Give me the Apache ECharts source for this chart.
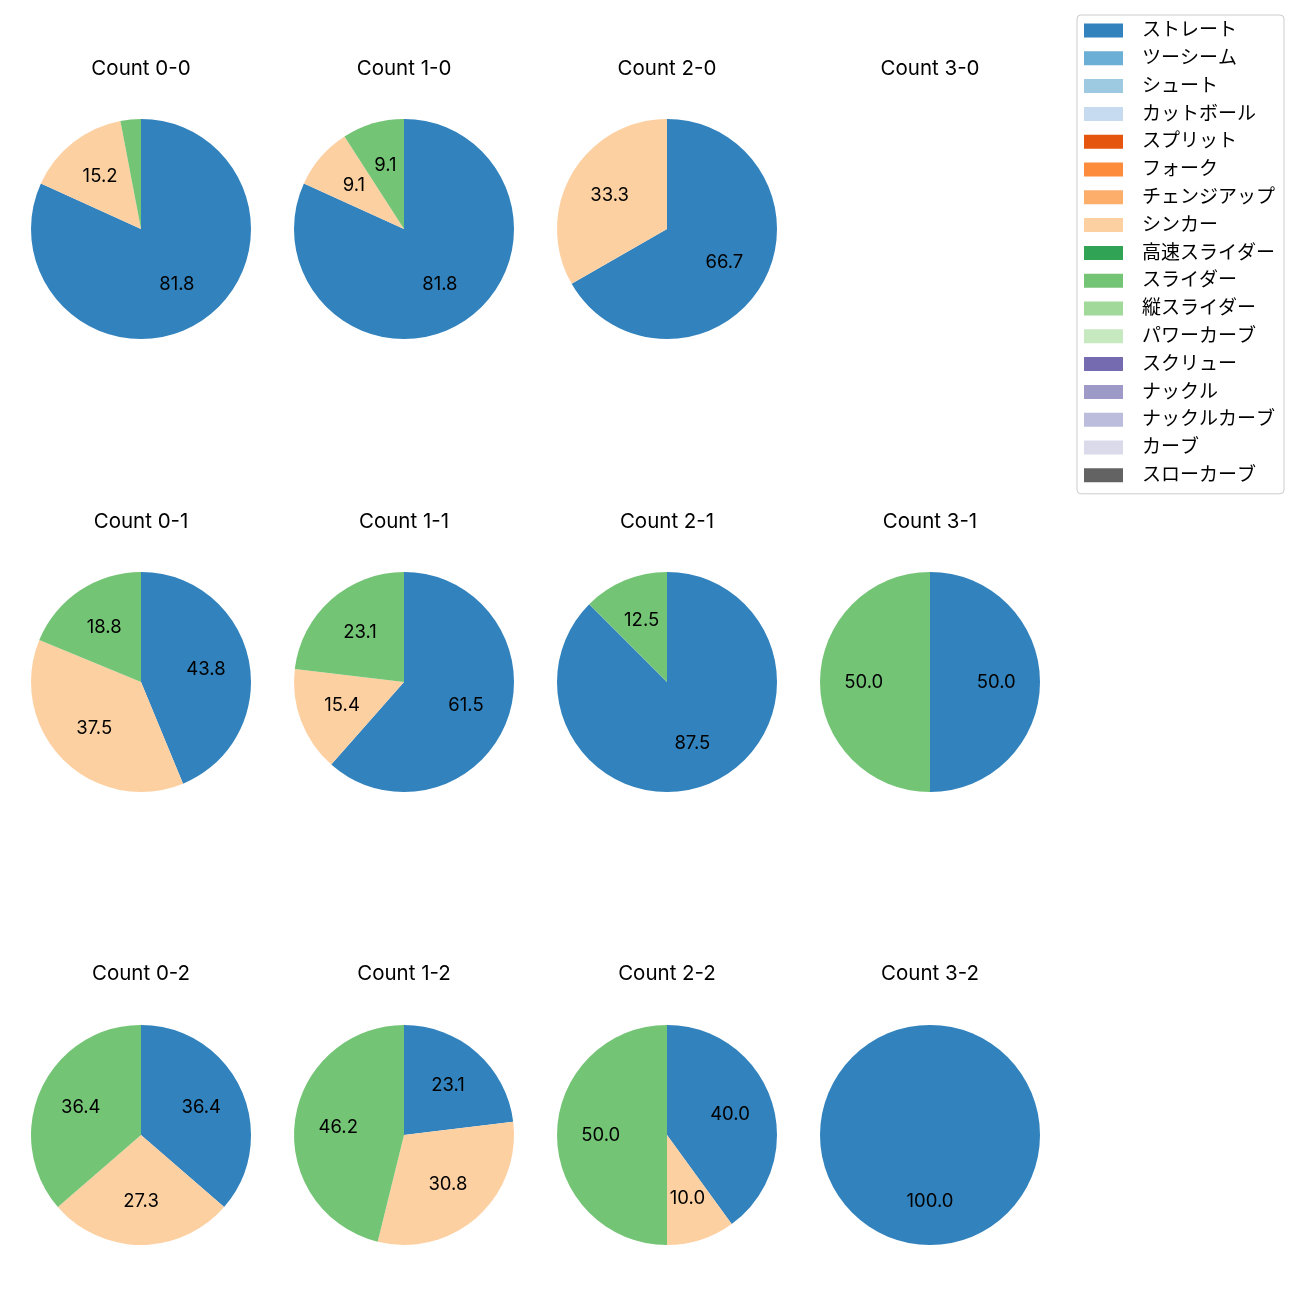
<!DOCTYPE html>
<html><head><meta charset="utf-8">
<script src="https://cdn.jsdelivr.net/npm/echarts@6/dist/echarts.min.js"></script>
<style>html,body{margin:0;padding:0;background:#fff}#c{width:1300px;height:1300px}</style>
</head><body><div id="c"></div>
<script>
const pitchTypes = ['ストレート','ツーシーム','シュート','カットボール','スプリット','フォーク','チェンジアップ','シンカー','高速スライダー','スライダー','縦スライダー','パワーカーブ','スクリュー','ナックル','ナックルカーブ','カーブ','スローカーブ'];
const pitchColors = ['#3182bd','#6baed6','#9ecae1','#c6dbef','#e6550d','#fd8d3c','#fdae6b','#fdd0a2','#31a354','#74c476','#a1d99b','#c7e9c0','#756bb1','#9e9ac8','#bcbddc','#dadaeb','#636363'];

// percentages per count: [ストレート, シンカー, スライダー]
const shownTypes = ['ストレート','シンカー','スライダー'];
const count00 = [81.8, 15.2, 3.0];
const count10 = [81.8, 9.1, 9.1];
const count20 = [66.7, 33.3, 0];
const count30 = [];
const count01 = [43.8, 37.5, 18.8];
const count11 = [61.5, 15.4, 23.1];
const count21 = [87.5, 0, 12.5];
const count31 = [50.0, 0, 50.0];
const count02 = [36.4, 27.3, 36.4];
const count12 = [23.1, 30.8, 46.2];
const count22 = [40.0, 10.0, 50.0];
const count32 = [100.0, 0, 0];

const panels = [
  ['Count 0-0', count00], ['Count 1-0', count10], ['Count 2-0', count20], ['Count 3-0', count30],
  ['Count 0-1', count01], ['Count 1-1', count11], ['Count 2-1', count21], ['Count 3-1', count31],
  ['Count 0-2', count02], ['Count 1-2', count12], ['Count 2-2', count22], ['Count 3-2', count32]
];

const colX = [141, 404, 667, 930];
const rowY = [229, 682, 1135];
const titleY = [59, 512, 964];
const R = 110;
const FONT = 'Inter, "Noto Sans CJK JP", sans-serif';
const colorOf = n => pitchColors[pitchTypes.indexOf(n)];

const titles = [];
const series = [];
// legend provider series (hidden)
series.push({
  type: 'pie', radius: 0, center: [-100, -100], silent: true,
  label: {show: false}, labelLine: {show: false}, stillShowZeroSum: false,
  data: pitchTypes.map(n => ({name: n, value: 0, itemStyle: {color: colorOf(n)}}))
});
panels.forEach((p, i) => {
  const c = i % 4, r = Math.floor(i / 4);
  titles.push({text: p[0], left: colX[c], top: titleY[r], textAlign: 'center', padding: 0,
    textStyle: {fontFamily: FONT, fontSize: 20.5, fontWeight: 'normal', color: '#000'}});
  const vals = p[1];
  if (!vals.length) return;
  const data = [];
  vals.forEach((v, k) => { if (v > 0) data.push({name: shownTypes[k], value: v, itemStyle: {color: colorOf(shownTypes[k])}}); });
  series.push({
    type: 'pie', center: [colX[c], rowY[r]], radius: [0, R], startAngle: 90, clockwise: true,
    silent: true, label: {show: false}, labelLine: {show: false},
    itemStyle: {borderWidth: 0}, data: data
  });
  series.push({
    type: 'pie', center: [colX[c], rowY[r]], radius: [R * 0.15, R], startAngle: 90, clockwise: true,
    silent: true, labelLine: {show: false},
    itemStyle: {color: 'rgba(0,0,0,0)', borderWidth: 0},
    label: {show: true, position: 'inside', fontFamily: FONT, fontSize: 18.5, color: '#000',
      formatter: q => q.value < 5 ? '' : q.value.toFixed(1)},
    data: data.map(d => ({name: d.name, value: d.value, itemStyle: {color: 'rgba(0,0,0,0)'}}))
  });
});

const chart = echarts.init(document.getElementById('c'));
chart.setOption({
  animation: false,
  backgroundColor: '#fff',
  title: titles,
  legend: {
    orient: 'vertical', left: 1077, top: 15, data: pitchTypes,
    itemWidth: 39, itemHeight: 14, itemGap: 8.8, icon: 'rect',
    padding: [6, 9, 9, 7],
    borderColor: '#cccccc', borderWidth: 1, borderRadius: 4,
    textStyle: {fontFamily: FONT, fontSize: 19, color: '#000', lineHeight: 19, padding: [0, 0, 0, 14]},
    selectedMode: false
  },
  series: series
});
</script></body></html>
